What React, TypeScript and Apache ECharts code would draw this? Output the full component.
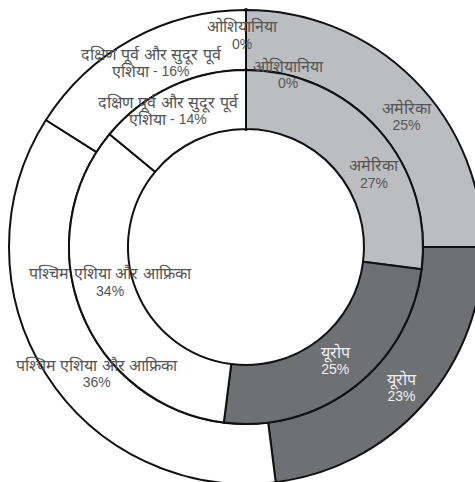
import React, { useEffect, useRef } from "react";
import * as echarts from "echarts";

const regions = ["ओशियानिया", "अमेरिका", "यूरोप", "पश्चिम एशिया और आफ्रिका", "दक्षिण पूर्व और सुदूर पूर्व\nएशिया"];
const outerValues = [0, 25, 23, 36, 16];
const innerValues = [0, 27, 25, 34, 14];

const fills = ["#ffffff", "#bcbdc0", "#6f7074", "#ffffff", "#ffffff"];
const labelColors = ["#555555", "#555555", "#eeeeee", "#555555", "#555555"];
const outerLabelShift = [[-4, -2], [12, 18], [-2, 2], [28, 14], [6, 0]];
const innerLabelShift = [[42, -22], [15, 27], [-3, -5], [4, -20], [-14, 0]];

function buildData(values: number[]) {
  return values.map((v, i) => ({
    name: regions[i],
    value: v,
    itemStyle: { color: fills[i], borderWidth: i === 0 ? 4 : 2 },
    label: {
      rich: {
        a: { color: labelColors[i], fontSize: 16, lineHeight: 17, fontFamily: "Liberation Sans, sans-serif" },
        b: { color: labelColors[i], fontSize: 14, lineHeight: 17, fontFamily: "Liberation Sans, sans-serif" },
      },
    },
  }));
}

const fmt = (p: any) => {
  const lines = String(p.name).split("\n");
  if (lines.length > 1) {
    return "{a|" + lines[0] + "}\n{a|" + lines[1] + "}{b| - " + p.value + "%}";
  }
  return "{a|" + p.name + "}\n{b|" + p.value + "%}";
};

export default function App() {
  const ref = useRef<HTMLDivElement>(null);
  useEffect(() => {
    document.body.style.margin = "0";
    const chart = echarts.init(ref.current!, null, { renderer: "svg" });
    const common = {
      type: "pie" as const,
      center: [246, 247],
      startAngle: 90,
      clockwise: true,
      avoidLabelOverlap: false,
      silent: true,
      label: {
        show: true,
        position: "inside",
        formatter: fmt,
      },
      labelLine: { show: false },
      itemStyle: { borderColor: "#111", borderWidth: 2 },
      emphasis: { disabled: true },
    };
    chart.setOption({
      animation: false,
      backgroundColor: "#ffffff",
      series: [
        {
          ...common,
          name: "outer",
          radius: [177, 237],
          data: buildData(outerValues),
          labelLayout: (p: any) => ({ dx: outerLabelShift[p.dataIndex][0], dy: outerLabelShift[p.dataIndex][1] }),
        },
        {
          ...common,
          name: "inner",
          radius: [118, 177],
          data: buildData(innerValues),
          labelLayout: (p: any) => ({ dx: innerLabelShift[p.dataIndex][0], dy: innerLabelShift[p.dataIndex][1] }),
        },
      ],
    });
    return () => chart.dispose();
  }, []);
  return <div ref={ref} style={{ position: "absolute", left: 0, top: 0, width: 475, height: 482 }} />;
}
